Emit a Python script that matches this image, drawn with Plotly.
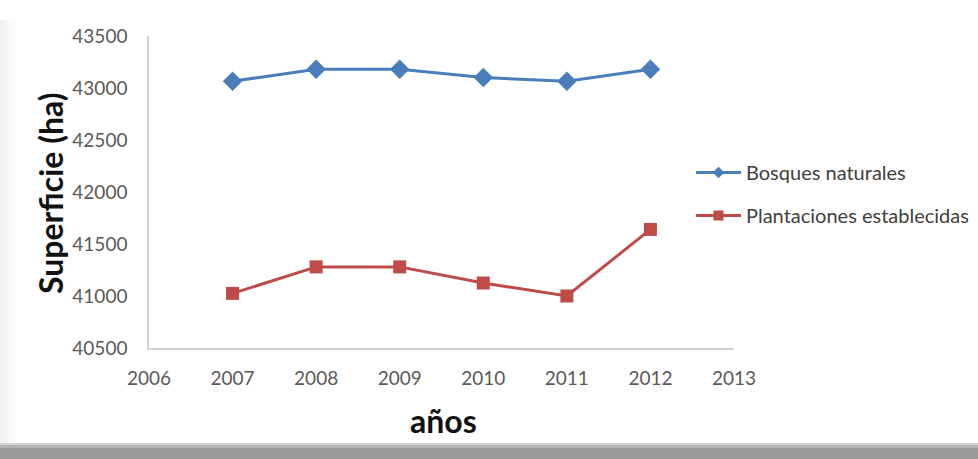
import plotly.graph_objects as go

# Superficie forestal por año
anios = [2007, 2008, 2009, 2010, 2011, 2012]
bosques_naturales = [43065, 43180, 43180, 43100, 43065, 43180]
plantaciones_establecidas = [41025, 41280, 41280, 41125, 41000, 41640]

serie_nombres = ["Bosques naturales", "Plantaciones establecidas"]
eje_x_titulo = "años"
eje_y_titulo = "Superficie (ha)"

W, H = 978, 459
L, R, T, B = 149, 244, 36, 111
PW, PH = W - L - R, H - T - B


def px_x(px):
    return (px - L) / PW


def px_y(py):
    return (H - B - py) / PH


FONT = "Lato"
AZUL = "#4A7EBB"
ROJO = "#BE4B48"

fig = go.Figure()
series = [
    (bosques_naturales, serie_nombres[0], AZUL, "diamond", 15, 9, "a"),
    (plantaciones_establecidas, serie_nombres[1], ROJO, "square", 13, 10, "b"),
]
for valores, nombre, color, simbolo, tam, tam_ley, grupo in series:
    fig.add_trace(go.Scatter(
        x=anios, y=valores, name=nombre, mode="lines+markers", showlegend=False,
        line=dict(color=color, width=3),
        marker=dict(symbol=simbolo, size=tam, color=color),
    ))
    # entrada de leyenda con marcador más pequeño
    fig.add_trace(go.Scatter(
        x=[None], y=[None], name=nombre, mode="lines+markers", legendgroup=grupo,
        line=dict(color=color, width=3),
        marker=dict(symbol=simbolo, size=tam_ley, color=color),
    ))

# sombra del marco
shapes = []
bandas = [(443, 445, "#d4d4d4"), (445, 448, "#b4b4b4"), (448, 459, "#9c9c9c")]
for y0, y1, c in bandas:
    shapes.append(dict(type="rect", xref="paper", yref="paper",
                       x0=px_x(0), x1=px_x(W), y0=px_y(y1), y1=px_y(y0),
                       fillcolor=c, line_width=0, layer="below"))
for i, c in enumerate(["#f1f1f1", "#f5f5f5", "#f8f8f8", "#fbfbfb"]):
    shapes.append(dict(type="rect", xref="paper", yref="paper",
                       x0=px_x(i * 4), x1=px_x(i * 4 + 4), y0=px_y(443), y1=px_y(20),
                       fillcolor=c, line_width=0, layer="below"))

fig.update_layout(
    width=W, height=H,
    margin=dict(l=L, r=R, t=T, b=B, pad=0, autoexpand=False),
    paper_bgcolor="white", plot_bgcolor="white",
    font=dict(family=FONT, color="#595959"),
    showlegend=True,
    legend=dict(
        x=px_x(691), y=px_y(153), xanchor="left", yanchor="top",
        font=dict(size=20, color="#404040", family=FONT),
        traceorder="grouped", tracegroupgap=14,
        itemwidth=45, bgcolor="rgba(0,0,0,0)",
    ),
    shapes=shapes,
    annotations=[
        dict(text=eje_y_titulo, xref="paper", yref="paper",
             x=px_x(50), y=px_y(194), textangle=-90, showarrow=False,
             font=dict(size=32, color="#111111", family=FONT, weight="bold"),
             xanchor="center", yanchor="middle"),
        dict(text=eje_x_titulo, xref="paper", yref="paper",
             x=px_x(443), y=px_y(420), showarrow=False,
             font=dict(size=32, color="#111111", family=FONT, weight="bold"),
             xanchor="center", yanchor="middle"),
    ],
)
fig.update_xaxes(
    range=[2006, 2013], dtick=1, tick0=2006, showgrid=False, zeroline=False,
    showline=True, linecolor="#d0d0d0", linewidth=1.5, ticks="",
    tickfont=dict(size=19, color="#595959"), ticklabelstandoff=12,
)
fig.update_yaxes(
    range=[40500, 43500], dtick=500, tick0=40500, showgrid=False, zeroline=False,
    showline=True, linecolor="#d0d0d0", linewidth=1.5, ticks="",
    tickformat="d", tickfont=dict(size=19, color="#595959"), ticklabelstandoff=16,
)

fig.write_html("out.html")
